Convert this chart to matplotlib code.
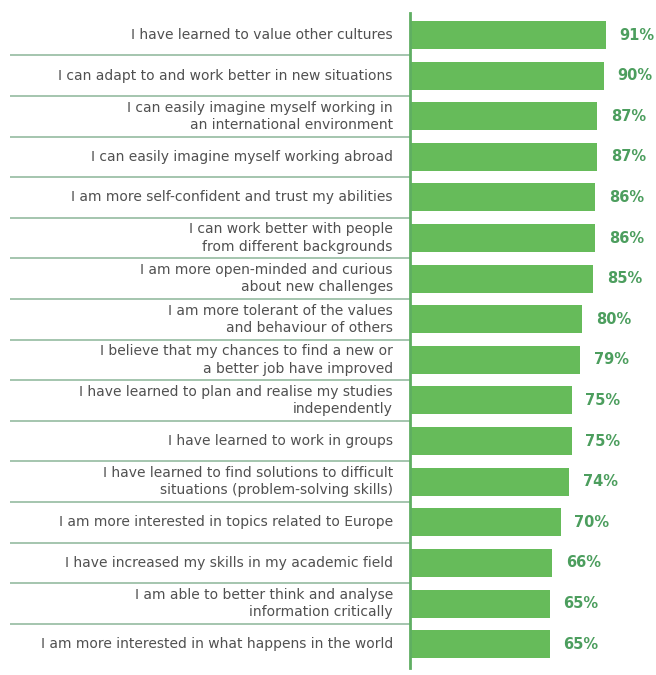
import matplotlib.pyplot as plt

labels = [
    'I have learned to value other cultures',
    'I can adapt to and work better in new situations',
    'I can easily imagine myself working in\nan international environment',
    'I can easily imagine myself working abroad',
    'I am more self-confident and trust my abilities',
    'I can work better with people\nfrom different backgrounds',
    'I am more open-minded and curious\nabout new challenges',
    'I am more tolerant of the values\nand behaviour of others',
    'I believe that my chances to find a new or\na better job have improved',
    'I have learned to plan and realise my studies\nindependently',
    'I have learned to work in groups',
    'I have learned to find solutions to difficult\nsituations (problem-solving skills)',
    'I am more interested in topics related to Europe',
    'I have increased my skills in my academic field',
    'I am able to better think and analyse\ninformation critically',
    'I am more interested in what happens in the world',
]
values = [91, 90, 87, 87, 86, 86, 85, 80, 79, 75, 75, 74, 70, 66, 65, 65]

bar_color = '#66bb5a'
value_color = '#4c9e5e'
line_color = '#8cb598'
text_color = '#505050'

plt.rcParams['font.family'] = ['DejaVu Sans']

fig = plt.figure(figsize=(6.56, 6.75), dpi=100)
ax = fig.add_axes([410 / 656, 0, 246 / 656, 1])

n = len(values)
rows = list(range(n))
ax.barh(rows, values, height=0.69, color=bar_color, left=0)

for i, (lab, v) in enumerate(zip(labels, values)):
    ax.text(-8, i, lab, ha='right', va='center', fontsize=10,
            color=text_color, linespacing=1.3, clip_on=False)
    ax.text(v + 6.3, i, f'{v}%', ha='left', va='center', fontsize=10.5,
            fontweight='bold', color=value_color)

# row separators on the label side
for i in range(n - 1):
    ax.plot([-185.7, 0], [i + 0.5, i + 0.5], color=line_color, lw=1.1,
            clip_on=False, solid_capstyle='butt')

ax.plot([0, 0], [-0.542, 15.59], color='#5fae62', lw=2, clip_on=False)

ax.set_xlim(0, 114.2)
ax.set_ylim(15.76, -0.862)
ax.axis('off')

fig.savefig('out.png', dpi=100)
